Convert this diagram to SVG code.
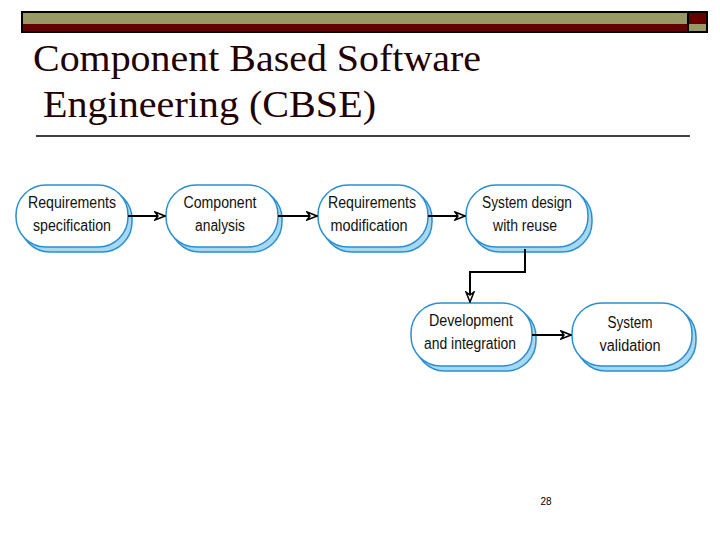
<svg xmlns="http://www.w3.org/2000/svg" width="720" height="540" viewBox="0 0 720 540">
<style>
.sh{fill:#a8d8f0;stroke:#2a8fd0;stroke-width:1.5}
.bx{fill:#fff;stroke:#2a8fd0;stroke-width:1.5}
.t{font-family:"Liberation Sans",Arial,sans-serif;font-size:16px;fill:#111;text-anchor:middle}
.c{stroke:#000;stroke-width:2;fill:none;marker-end:url(#a)}
</style>
<defs><marker id="a" markerWidth="12" markerHeight="10" refX="11" refY="5" orient="auto" markerUnits="userSpaceOnUse"><path d="M1,1 L11,5 L1,9 L4,5 Z" fill="#fff" stroke="#000" stroke-width="1.5"/></marker></defs>
<rect width="720" height="540" fill="#fff"/>
<g id="header">
<rect x="22" y="12" width="666" height="12" fill="#999966"/>
<rect x="22" y="24" width="666" height="8" fill="#660000"/>
<rect x="688" y="12" width="19" height="12" fill="#660000"/>
<rect x="688" y="24" width="19" height="8" fill="#999966"/>
<rect x="22" y="12" width="685" height="20" fill="none" stroke="#000" stroke-width="2"/>
<line x1="688" y1="12" x2="688" y2="32" stroke="#000" stroke-width="2"/>
</g>
<text x="33" y="71" font-family="Liberation Serif,serif" font-size="37" fill="#220000" textLength="448" lengthAdjust="spacingAndGlyphs">Component Based Software</text>
<text x="43" y="117" font-family="Liberation Serif,serif" font-size="37" fill="#220000" textLength="333" lengthAdjust="spacingAndGlyphs">Engineering (CBSE)</text>
<line x1="36" y1="136" x2="690" y2="136" stroke="#000" stroke-width="1.5"/>
<g id="n1"><rect class="sh" x="20" y="189" width="112" height="63" rx="30"/><rect class="bx" x="16" y="185" width="112" height="62" rx="30"/><text class="t" x="72" y="208" textLength="88" lengthAdjust="spacingAndGlyphs">Requirements</text><text class="t" x="72" y="231" textLength="78" lengthAdjust="spacingAndGlyphs">specification</text></g>
<g id="n2"><rect class="sh" x="170" y="189" width="112" height="63" rx="30"/><rect class="bx" x="166" y="185" width="112" height="62" rx="30"/><text class="t" x="220" y="208" textLength="73" lengthAdjust="spacingAndGlyphs">Component</text><text class="t" x="220" y="231" textLength="50" lengthAdjust="spacingAndGlyphs">analysis</text></g>
<g id="n3"><rect class="sh" x="322" y="189" width="110" height="63" rx="30"/><rect class="bx" x="318" y="185" width="110" height="62" rx="30"/><text class="t" x="372" y="208" textLength="88" lengthAdjust="spacingAndGlyphs">Requirements</text><text class="t" x="369" y="231" textLength="77" lengthAdjust="spacingAndGlyphs">modification</text></g>
<g id="n4"><rect class="sh" x="470" y="189" width="122" height="63" rx="30"/><rect class="bx" x="466" y="185" width="122" height="62" rx="30"/><text class="t" x="527" y="208" textLength="90" lengthAdjust="spacingAndGlyphs">System design</text><text class="t" x="525" y="231" textLength="64" lengthAdjust="spacingAndGlyphs">with reuse</text></g>
<g id="n5"><rect class="sh" x="415" y="307" width="121" height="64" rx="30"/><rect class="bx" x="411" y="303" width="121" height="63" rx="30"/><text class="t" x="471" y="326" textLength="84" lengthAdjust="spacingAndGlyphs">Development</text><text class="t" x="470" y="349" textLength="92" lengthAdjust="spacingAndGlyphs">and integration</text></g>
<g id="n6"><rect class="sh" x="576" y="307" width="120" height="64" rx="30"/><rect class="bx" x="572" y="303" width="120" height="63" rx="30"/><text class="t" x="630" y="328" textLength="45" lengthAdjust="spacingAndGlyphs">System</text><text class="t" x="630" y="351" textLength="61" lengthAdjust="spacingAndGlyphs">validation</text></g>
<g id="connectors">
<path class="c" d="M128,216 H165"/>
<path class="c" d="M278,216 H317"/>
<path class="c" d="M428,216 H465"/>
<path class="c" d="M525,249 V272 H470 V302"/>
<path class="c" d="M532,335 H571"/>
</g>
<text x="546" y="505" font-family="Liberation Sans,Arial,sans-serif" font-size="10" fill="#000" text-anchor="middle">28</text>
</svg>
